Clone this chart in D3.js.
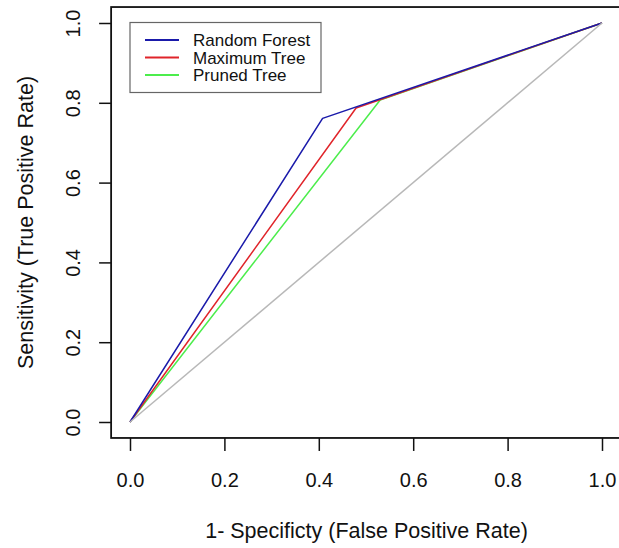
<!DOCTYPE html>
<html><head><meta charset="utf-8">
<script src="https://cdn.jsdelivr.net/npm/d3@7"></script>
<style>html,body{margin:0;padding:0;background:#fff;}svg{display:block;}</style>
</head><body>
<script>
// Data
const seriesNames = ["Random Forest", "Maximum Tree", "Pruned Tree"];
const seriesColors = ["#1a1aaa", "#e0242a", "#4ced4c"];
const rfFPR = [0, 0.408, 1];
const rfTPR = [0, 0.761, 1];
const maxFPR = [0, 0.479, 1];
const maxTPR = [0, 0.787, 1];
const prunedFPR = [0, 0.530, 1];
const prunedTPR = [0, 0.807, 1];
const refFPR = [0, 1];
const refTPR = [0, 1];
const xTicks = [0, 0.2, 0.4, 0.6, 0.8, 1.0];
const yTicks = [0, 0.2, 0.4, 0.6, 0.8, 1.0];
const xTitle = "1- Specificty (False Positive Rate)";
const yTitle = "Sensitivity (True Positive Rate)";

const W = 619, H = 548;
const font = "'Liberation Sans', Arial, Helvetica, sans-serif";
const svg = d3.select("body").append("svg").attr("width", W).attr("height", H)
  .style("font-family", font);

const x = d3.scaleLinear().domain([0, 1]).range([130, 602]);
const y = d3.scaleLinear().domain([0, 1]).range([422, 23]);
// R-style 4% extension for plot box
const bx0 = x(-0.04), bx1 = x(1.04), by0 = y(-0.04), by1 = y(1.04);

const line = d3.line().x(d => x(d[0])).y(d => y(d[1]));
const zip = (a, b) => a.map((v, i) => [v, b[i]]);

const series = [
  {name: seriesNames[2], color: seriesColors[2], pts: zip(prunedFPR, prunedTPR)},
  {name: seriesNames[1], color: seriesColors[1], pts: zip(maxFPR, maxTPR)},
  {name: seriesNames[0], color: seriesColors[0], pts: zip(rfFPR, rfTPR)}
];

series.forEach(s => {
  svg.append("path").attr("d", line(s.pts)).attr("fill", "none")
    .attr("stroke", s.color).attr("stroke-width", 1.5).attr("stroke-linejoin", "round");
});
svg.append("path").attr("d", line(zip(refFPR, refTPR))).attr("fill", "none")
  .attr("stroke", "#b8b8b8").attr("stroke-width", 1.5);

// Axes
const xAxis = d3.axisBottom(x).tickValues(xTicks).tickFormat(d3.format(".1f")).tickSize(13);
const gx = svg.append("g").attr("transform", `translate(0,${by0})`).call(xAxis);
gx.select(".domain").remove();
gx.selectAll("line").attr("stroke", "#111").attr("stroke-width", 1.5);
gx.selectAll("text").attr("font-size", 20).attr("font-family", font).attr("fill", "#111")
  .attr("y", 49).attr("dy", 0);

const yAxis = d3.axisLeft(y).tickValues(yTicks).tickFormat(d3.format(".1f")).tickSize(12);
const gy = svg.append("g").attr("transform", `translate(${bx0},0)`).call(yAxis);
gy.select(".domain").remove();
gy.selectAll("line").attr("stroke", "#111").attr("stroke-width", 1.5);
gy.selectAll(".tick text").attr("font-size", 20).attr("font-family", font).attr("fill", "#111")
  .attr("x", 0).attr("y", 0).attr("dy", 0).attr("text-anchor", "middle")
  .attr("transform", "translate(-31,0) rotate(-90)");

// Box
svg.append("rect").attr("x", bx0).attr("y", by1).attr("width", bx1 - bx0).attr("height", by0 - by1)
  .attr("fill", "none").attr("stroke", "#111").attr("stroke-width", 1.8);

// Titles
svg.append("text").attr("x", (x(0) + x(1)) / 2 + 0.5).attr("y", 538).attr("text-anchor", "middle")
  .attr("font-size", 21.5).attr("fill", "#111").text(xTitle);
svg.append("text").attr("transform", `translate(33,${(y(0) + y(1)) / 2}) rotate(-90)`)
  .attr("text-anchor", "middle").attr("font-size", 21.5).attr("fill", "#111").text(yTitle);

// Legend
const lg = svg.append("g");
lg.append("rect").attr("x", 130).attr("y", 22.5).attr("width", 191).attr("height", 70)
  .attr("fill", "#fff").attr("stroke", "#666").attr("stroke-width", 1.2);
seriesNames.forEach((n, i) => {
  const ly = 40 + i * 17.5;
  lg.append("line").attr("x1", 145).attr("x2", 179).attr("y1", ly).attr("y2", ly)
    .attr("stroke", seriesColors[i]).attr("stroke-width", 2.2);
  lg.append("text").attr("x", 193).attr("y", ly).attr("dy", "0.36em")
    .attr("font-size", 17).attr("fill", "#111").text(n);
});
</script>
</body></html>
